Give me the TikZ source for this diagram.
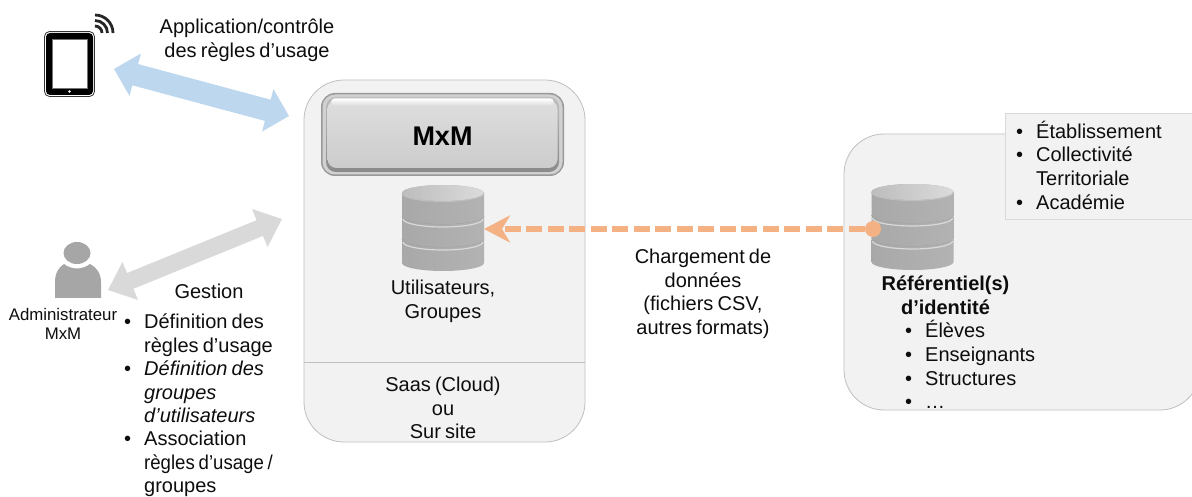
\documentclass[tikz,border=0pt]{standalone}
\usepackage{fontspec}
\setmainfont[WordSpace=0.75]{Liberation Sans}
\usetikzlibrary{arrows.meta,shapes.geometric,calc}
\definecolor{panelfill}{HTML}{F2F2F2}
\definecolor{panelline}{HTML}{BFBFBF}
\definecolor{bluearrow}{HTML}{BDD7EE}
\definecolor{grayarrow}{HTML}{D9D9D9}
\definecolor{orangearrow}{HTML}{F4B183}
\definecolor{persongray}{HTML}{A6A6A6}
\newcommand{\bul}{\llap{•\hspace{13pt}}}
\newcommand{\dbtier}[2]{%
  \shade[left color=black!34,middle color=black!13,right color=black!30]
    (-41,#1) -- (-41,#1-#2) arc[start angle=180,end angle=360,x radius=41,y radius=8] -- (41,#1) arc[start angle=0,end angle=180,x radius=41,y radius=8] -- cycle;
}
\newcommand{\dbedge}[1]{%
  \draw[black!38,line width=.7pt] (-41,#1) arc[start angle=180,end angle=360,x radius=41,y radius=8];
  \draw[white!85!black,line width=1.2pt] (-40,#1-3) arc[start angle=180,end angle=360,x radius=40,y radius=8];
}
% block arrow between two named tips: #1 style, #2 #3 tips, #4 head length, #5 head half width, #6 shaft half width
\newcommand{\blockarrow}[6]{%
  \fill[#1] (#2)
    -- ($(#2)!#4!(#3)!#5!90:(#3)$)
    -- ($(#2)!#4!(#3)!#6!90:(#3)$)
    -- ($(#3)!#4!(#2)!#6!-90:(#2)$)
    -- ($(#3)!#4!(#2)!#5!-90:(#2)$)
    -- (#3)
    -- ($(#3)!#4!(#2)!#5!90:(#2)$)
    -- ($(#3)!#4!(#2)!#6!90:(#2)$)
    -- ($(#2)!#4!(#3)!#6!-90:(#3)$)
    -- ($(#2)!#4!(#3)!#5!-90:(#3)$)
    -- cycle;
}
\tikzset{
  x=1pt,y=-1pt,
  panel/.style={draw=panelline,fill=panelfill,line width=.8pt,rounded corners=40pt,minimum width=#1},
  lbl/.style={font=\fontsize{20}{23.6}\selectfont,text=black!95,align=center,inner sep=0pt},
  lst/.style={font=\fontsize{20}{23.8}\selectfont,text=black!95,align=left,inner sep=0pt,anchor=north west},
  btnlayer/.style={rounded corners=#1,inner sep=0pt},
  dbicon/.pic={
    \begin{scope}[y=1pt]
      \dbtier{-56}{22}
      \dbedge{-54}
      \dbtier{-33}{21}
      \dbedge{-31}
      \dbtier{-8}{23}
      \shade[left color=black!26,right color=black!14] (0,-8) ellipse[x radius=41,y radius=8];
      \draw[white!75!black,line width=1pt] (-41,-8) arc[start angle=180,end angle=360,x radius=41,y radius=8.5];
      \coordinate (-e) at (41,-44);
      \coordinate (-w) at (-40,-44);
    \end{scope}
  }
}
\begin{document}
\begin{tikzpicture}
\useasboundingbox (0,0) rectangle (1192,497);
\clip (0,0) rectangle (1192,497);
% panels
\node[panel=281pt,minimum height=362pt,inner sep=0pt] (mid) at (444.5,261) {};
\draw[panelline,line width=.8pt] (mid.west |- 0,362) -- (mid.east |- 0,362);
\node[panel=356pt,minimum height=276pt,inner sep=0pt] (right) at (1022,272) {};
\node[draw=grayarrow,fill=panelfill,line width=.8pt,minimum width=190pt,minimum height=106pt,inner sep=0pt] (kinds) at (1100,166) {};
% MxM button
\node[btnlayer=14pt,fill=black!40,minimum width=243pt,minimum height=83pt] (btnouter) at (442.5,134.5) {};
\node[btnlayer=12.5pt,fill=black!18,minimum width=240pt,minimum height=80pt] (btnring) at (btnouter) {};
\node[btnlayer=10pt,top color=black!26,bottom color=black!46,minimum width=233pt,minimum height=75pt] (btninner) at (442.5,134.5) {};
\node[btnlayer=9pt,top color=black!13,bottom color=black!20,minimum width=230pt,minimum height=68pt] (mxm) at (442.5,134) {};
\node[btnlayer=3pt,top color=white,bottom color=black!13,minimum width=222pt,minimum height=7pt] (btnshine) at (442.5,102) {};
\node[inner sep=0pt,font=\bfseries\fontsize{27}{27}\selectfont] (mxmtext) at (442.5,136.5) {MxM};
% databases
\pic (dbm) at (443,185) {dbicon};
\pic (dbr) at (912.5,184) {dbicon};
% tablet
\node[draw=black!80,fill=white,line width=.8pt,rounded corners=5pt,minimum width=50pt,minimum height=65pt,inner sep=0pt] (tablet) at (69.5,64) {};
\node[fill=black,rounded corners=4pt,minimum width=47pt,minimum height=62pt,inner sep=0pt] (tabletbody) at (tablet) {};
\node[draw=black!55,fill=white,line width=.6pt,minimum width=35pt,minimum height=49pt,inner sep=0pt] (screen) at (69.5,63.5) {};
\node[circle,fill=white,minimum size=2.8pt,inner sep=0pt] (homebtn) at (69.5,91.5) {};
\begin{scope}[y=1pt,shift={(95,-33)},line width=2.8pt,black!85]
  \draw (90:7) arc[start angle=90,end angle=0,radius=7];
  \draw (90:12.5) arc[start angle=90,end angle=0,radius=12.5];
  \draw (90:18) arc[start angle=90,end angle=0,radius=18];
\end{scope}
% person
\node[ellipse,fill=persongray,minimum width=27pt,minimum height=22pt,inner sep=0pt] (head) at (77,253) {};
\fill[persongray] (55,298) -- (55,282) .. controls (55,273) and (59,267) .. (64,264) .. controls (72,270) and (82,270) .. (90,264) .. controls (96,267) and (101,273) .. (101,282) -- (101,298) -- cycle;
% connectors
\coordinate (blueL) at (114,69);
\coordinate (blueR) at (289,116);
\coordinate (grayL) at (108,290);
\coordinate (grayR) at (282,219);
\blockarrow{bluearrow}{blueL}{blueR}{22pt}{22pt}{11pt}
\blockarrow{grayarrow}{grayL}{grayR}{24pt}{20.5pt}{8.5pt}
\node[circle,fill=orangearrow,minimum size=16pt,inner sep=0pt] (dot) at (873,229) {};
\draw[orangearrow,line width=5.5pt,dash pattern=on 16pt off 5.5pt,-{Stealth[length=26pt,width=27pt,inset=8pt]}] (dot) -- (dbm-e);
% labels
\node[lbl] (applbl) at (247,40.5) {Application/contrôle\\des règles d’usage};
\node[lbl] (gestion) at (209,291) {Gestion};
\node[lbl,font=\fontsize{16.8}{19.5}\selectfont] (admin) at (63,324) {Administrateur\\MxM};
\node[lst,font=\fontsize{20}{23.4}\selectfont] (adminlist) at (144,314) {\bul Définition des\\règles d’usage\\\bul\itshape Définition des\\\itshape groupes\\\itshape d’utilisateurs\\\bul Association\\\scalebox{0.93}[1]{règles d’usage /}\\groupes};
\node[lbl,font=\fontsize{20}{24.5}\selectfont] (users) at (443,301.5) {Utilisateurs,\\Groupes};
\node[lbl] (saas) at (443,408) {Saas (Cloud)\\ou\\Sur site};
\node[lbl] (load) at (703,294) {Chargement de\\données\\(fichiers CSV,\\autres formats)};
\node[lbl,font=\bfseries\fontsize{20}{24.5}\selectfont] (refid) at (945.5,295.5) {Référentiel(s)\\d’identité};
\node[lst] (reflist) at (925,320) {\bul Élèves\\\bul Enseignants\\\bul Structures\\\bul …};
\node[lst] (kindslist) at (1036,120.5) {\bul Établissement\\\bul Collectivité\\Territoriale\\\bul Académie};
\end{tikzpicture}
\end{document}
